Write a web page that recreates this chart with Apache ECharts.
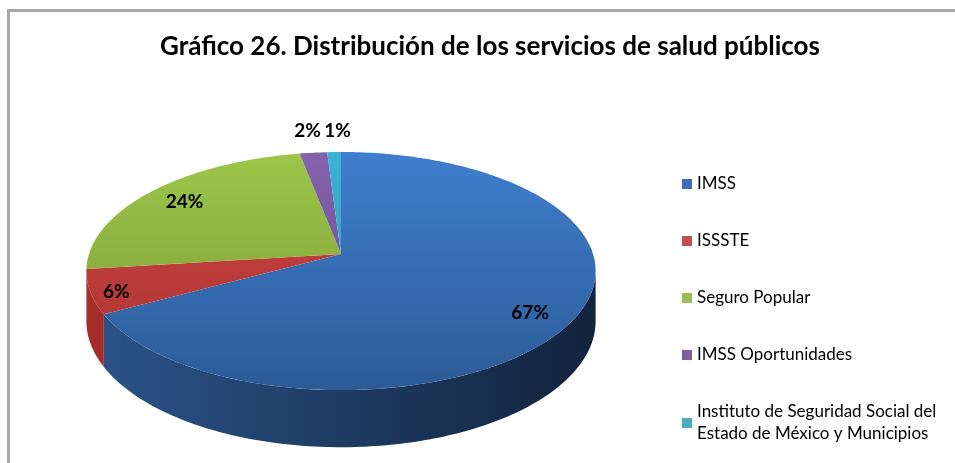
<!DOCTYPE html>
<html>
<head>
<meta charset="utf-8">
<script src="https://cdn.jsdelivr.net/npm/echarts@6/dist/echarts.min.js"></script>
<style>
  html, body { margin: 0; padding: 0; background: #fff; }
  #chart { width: 955px; height: 463px; }
</style>
</head>
<body>
<div id="chart"></div>
<script>
// datos del gráfico
const categories = [
  'IMSS',
  'ISSSTE',
  'Seguro Popular',
  'IMSS Oportunidades',
  'Instituto de Seguridad Social del Estado de México y Municipios'
]
const values = [67, 6, 24, 2, 1]

const legendColors = ['#3c70b6', '#c0504d', '#9bbb59', '#7d5fa0', '#4bacc6']
const topColors = [
  ['#3f7ecd', '#2c5b96'],
  ['#cf4543', '#a83230'],
  ['#9dc64b', '#789834'],
  ['#8462ad', '#6a4b92'],
  ['#3cb3d6', '#2c94b2']
]
const sideColors = [
  ['#2b5489', '#12233c'],
  ['#a52e2c', '#7a1e1c'],
  ['#7d9a3a', '#5a7028'],
  ['#6a4b92', '#4a3268'],
  ['#2c94b2', '#1f6c82']
]

// geometría del pastel 3D (perspectiva)
const CX = 341, CY = 254, A = 252, B = 116.6, P = 0.143, T = 49
const total = values.reduce((s, v) => s + v, 0)
const starts = values.map((v, i) => values.slice(0, i).reduce((s, x) => s + x, 0))
// ángulos de la silueta lateral (cos phi = -P)
const SIL0 = Math.acos(-P)
const SIL1 = 2 * Math.PI - SIL0

function proj(r, phi, depth) {
  const X = r * Math.sin(phi)
  const Z = -r * Math.cos(phi)
  const k = 1 / (1 - P * Z)
  return [CX + A * X * k, CY + B * Z * k + T * depth * k]
}

function arc(a0, a1, r, depth) {
  const n = Math.max(2, Math.ceil((a1 - a0) / (Math.PI / 180)))
  const pts = []
  for (let j = 0; j <= n; j++) pts.push(proj(r, a0 + (a1 - a0) * j / n, depth))
  return pts
}

function sliceAngles(i) {
  return [starts[i] / total * 2 * Math.PI, (starts[i] + values[i]) / total * 2 * Math.PI]
}

// posiciones de etiquetas, las pequeñas van fuera y se separan si chocan
const labelPos = []
let prevOuterX = -Infinity
values.forEach((v, i) => {
  const [a0, a1] = sliceAngles(i)
  const share = v / total
  const mid = (a0 + a1) / 2
  const lr = share < 0.03 ? 1.25 : share < 0.1 ? 0.9 : 0.82
  const lp = proj(lr, mid, 0)
  if (share >= 0.03) {
    lp[1] += T * 0.3 * Math.max(0, -Math.cos(mid))
  } else {
    if (lp[0] - prevOuterX < 30) lp[0] = prevOuterX + 30
    prevOuterX = lp[0]
  }
  labelPos.push(lp)
})

function renderTop(i) {
  const [a0, a1] = sliceAngles(i)
  const pts = [proj(0, 0, 0)].concat(arc(a0, a1, 1, 0))
  const lp = labelPos[i]
  return {
    type: 'group',
    children: [
      {
        type: 'polygon',
        shape: { points: pts },
        style: {
          fill: new echarts.graphic.LinearGradient(0, 152, 0, 392, [
            { offset: 0, color: topColors[i][0] },
            { offset: 1, color: topColors[i][1] }
          ], true),
          stroke: null
        }
      },
      {
        type: 'text',
        z2: 10,
        style: {
          x: lp[0], y: lp[1],
          text: Math.round(values[i] / total * 100) + '%',
          fill: '#000',
          font: 'bold 19px Lato',
          align: 'center',
          verticalAlign: 'middle'
        }
      }
    ]
  }
}

function renderSide(params) {
  const i = params.dataIndex
  let [a0, a1] = sliceAngles(i)
  a0 = Math.max(a0, SIL0)
  a1 = Math.min(a1, SIL1)
  if (a1 <= a0) return null
  const top = arc(a0, a1, 1, 0)
  const bottom = arc(a0, a1, 1, 1).reverse()
  return {
    type: 'polygon',
    shape: { points: top.concat(bottom) },
    style: {
      fill: new echarts.graphic.LinearGradient(88, 0, 597, 0, [
        { offset: 0, color: sideColors[i][0] },
        { offset: 1, color: sideColors[i][1] }
      ], true),
      stroke: null
    }
  }
}

const chart = echarts.init(document.getElementById('chart'))

const series = [
  {
    type: 'custom',
    name: 'lados',
    coordinateSystem: 'none',
    silent: true,
    z: 1,
    data: values,
    renderItem: renderSide
  }
].concat(categories.map((name, i) => ({
  type: 'custom',
  name: name,
  coordinateSystem: 'none',
  silent: true,
  z: 2,
  itemStyle: { color: legendColors[i] },
  data: [values[i]],
  renderItem: () => renderTop(i)
})))

chart.setOption({
  backgroundColor: '#fff',
  animation: false,
  title: {
    text: 'Gráfico 26. Distribución de los servicios de salud públicos',
    left: 155,
    top: 29,
    textStyle: { fontFamily: 'Lato', fontWeight: 'bold', fontSize: 26, color: '#000' }
  },
  legend: {
    data: categories,
    orient: 'vertical',
    left: 682,
    top: 173,
    padding: 0,
    itemGap: 35,
    itemWidth: 10,
    itemHeight: 10,
    icon: 'rect',
    selectedMode: false,
    textStyle: { fontFamily: 'Lato', fontSize: 17, color: '#000', lineHeight: 22 },
    formatter: (name) => name.replace(' del ', ' del\n')
  },
  graphic: [
    {
      type: 'rect',
      shape: { x: 8.5, y: 10.5, width: 970, height: 480 },
      style: { fill: null, stroke: '#a9a9a9', lineWidth: 3 }
    }
  ],
  series: series
})
</script>
</body>
</html>
